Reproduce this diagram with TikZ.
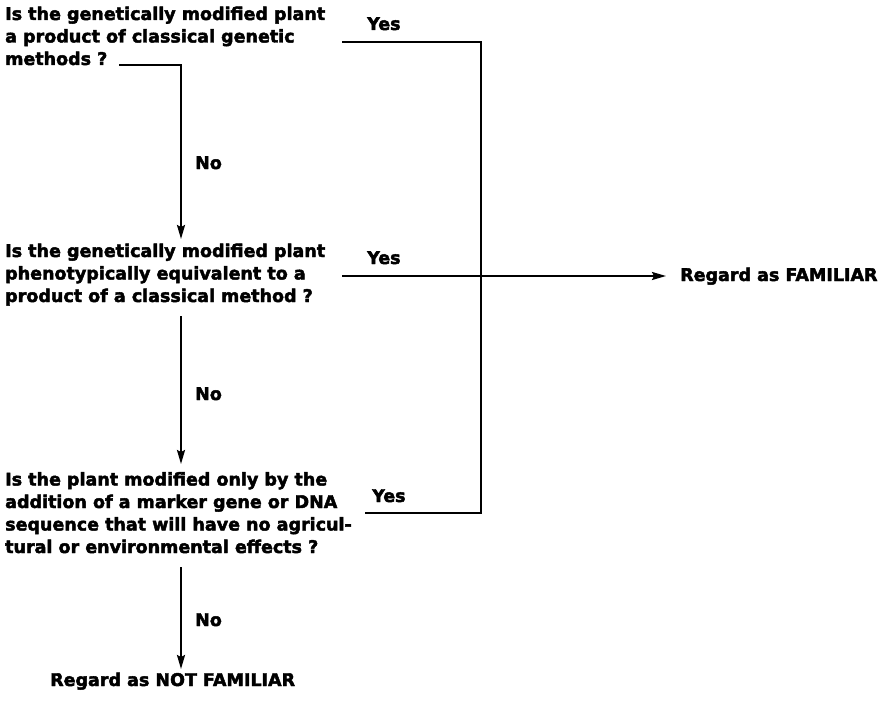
\documentclass[tikz,border=0pt]{standalone}
\usepackage{fontspec}
\setmainfont{DejaVu Sans}[BoldFeatures={FakeBold=2.5}]
\usetikzlibrary{arrows.meta}
\begin{document}
\begin{tikzpicture}[x=1pt,y=-1pt,
  txt/.style={inner sep=0pt,anchor=base west,align=left,
    font=\fontsize{17.5}{22.5}\selectfont\bfseries},
  lbl/.style={inner sep=0pt,anchor=base west,
    font=\fontsize{17.5}{22.5}\selectfont\bfseries},
  conn/.style={line width=2pt},
  arr/.style={conn,-{Stealth[length=14pt,width=8pt,inset=2pt]}}]
\useasboundingbox (0,0) rectangle (886,701);
% anchor base west = baseline of the last line
\node[txt] (q1) at (5,65) {Is the genetically modified plant\\a product of classical genetic\\methods ?};
\node[txt] (q2) at (5,302) {Is the genetically modified plant\\phenotypically equivalent to a\\product of a classical method ?};
\node[txt] (q3) at (5,553) {Is the plant modified only by the\\addition of a marker gene or DNA\\sequence that will have no agricul-\\tural or environmental effects ?};
\node[txt] (fam) at (680,281) {Regard as FAMILIAR};
\node[txt] (notfam) at (50,686) {Regard as NOT FAMILIAR};
\node[lbl] (no1) at (195,169) {No};
\node[lbl] (no2) at (195,400) {No};
\node[lbl] (no3) at (195,626) {No};
\node[lbl] (yes1) at (367,30) {Yes};
\node[lbl] (yes2) at (367,264) {Yes};
\node[lbl] (yes3) at (372,502) {Yes};
\coordinate (a1) at (119,65);
\coordinate (a1b) at (181,65);
\coordinate (a2) at (181,239);
\coordinate (b1) at (181,316);
\coordinate (b2) at (181,464);
\coordinate (c1) at (181,567);
\coordinate (c2) at (181,669);
\coordinate (y1) at (342,42);
\coordinate (y1b) at (481,42);
\coordinate (y3b) at (481,513);
\coordinate (y3) at (365,513);
\coordinate (y2) at (342,276);
\coordinate (y2e) at (666,276);
\draw[arr] (a1) -- (a1b) -- (a2);
\draw[arr] (b1) -- (b2);
\draw[arr] (c1) -- (c2);
\draw[conn] (y1) -- (y1b) -- (y3b) -- (y3);
\draw[arr] (y2) -- (y2e);
\end{tikzpicture}
\end{document}
